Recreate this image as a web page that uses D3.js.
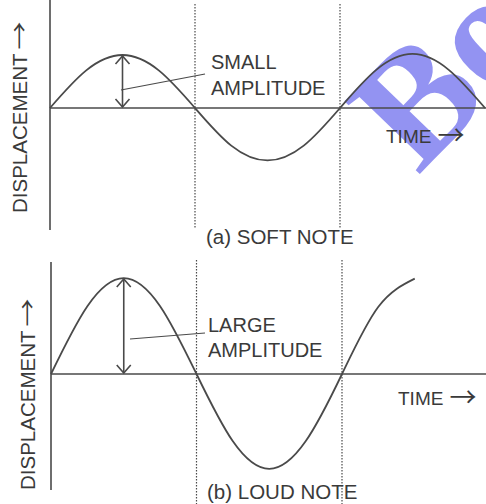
<!DOCTYPE html>
<html>
<head>
<meta charset="utf-8">
<script src="https://cdn.jsdelivr.net/npm/d3@7"></script>
<style>
  body { margin: 0; background: #fff; }
  svg { display: block; font-family: "Liberation Sans", Arial, sans-serif; }
</style>
</head>
<body>
<div id="chart"></div>
<script>
// time in quarter periods, displacement in "small amplitude" units
const timeSteps = [0, 0.5, 1, 1.5, 2, 2.5, 3, 3.5, 4, 4.5, 5, 5.5, 6];
const softNote = [0, 0.71, 1, 0.71, 0, -0.71, -0.99, -0.71, 0, 0.72, 1.02, 0.72, 0];
const loudNote = [0, 1.28, 1.81, 1.28, 0, -1.27, -1.79, -1.27, 0, 1.27, 1.8];
const guideTimes = [2, 4];
const amplitudeTime = 1;
const panelLabels = ["(a) SOFT NOTE", "(b) LOUD NOTE"];
const amplitudeLabels = [["SMALL", "AMPLITUDE"], ["LARGE", "AMPLITUDE"]];
const axisLabels = ["DISPLACEMENT", "TIME"];
const arrowGlyph = "\u2192";

const width = 486, height = 504;
const ink = "#4a4a4a", textInk = "#3a3a3a";

const svg = d3.select("#chart").append("svg")
  .attr("width", width)
  .attr("height", height);

// watermark sits under the drawing
svg.append("text")
  .attr("transform", "translate(418,176) rotate(-46)")
  .attr("font-family", "'Liberation Serif', serif")
  .attr("font-weight", "bold")
  .attr("font-size", 160)
  .attr("fill", "#7070ee")
  .attr("opacity", 0.75)
  .text("Bo");

const panels = [
  {
    values: softNote,
    x0: 50, x4: 340, base: 108, axisTop: 0, axisBottom: 230,
    guideTop: 4, guideBottom: 229,
    leader: [[121, 90], [205, 74]], textX: 211, textY: [69, 95],
    timeX: 386, timeY: 143, captionX: 206, captionY: 244,
    yLabelX: 27, yLabelY: 213
  },
  {
    values: loudNote,
    x0: 51, x4: 342, base: 374, axisTop: 262, axisBottom: 490,
    guideTop: 260, guideBottom: 504,
    leader: [[130, 339], [205, 333]], textX: 208, textY: [332, 357],
    timeX: 398, timeY: 405, captionX: 207, captionY: 499,
    yLabelX: 35, yLabelY: 490
  }
];

// label followed by a thin arrow glyph, stretched along its length if needed
function arrowLabel(g, label, fontSize, arrowSize, stretch, gap, shift) {
  const t = g.append("text")
    .attr("font-size", fontSize)
    .attr("fill", textInk)
    .text(label);
  const w = t.node().getComputedTextLength();
  g.append("text")
    .attr("transform", `translate(${w + gap},${shift}) scale(${stretch},1)`)
    .attr("font-family", "'Noto Sans CJK JP', sans-serif")
    .attr("font-size", arrowSize)
    .attr("fill", textInk)
    .text(arrowGlyph);
}

panels.forEach((p, i) => {
  const x = d3.scaleLinear().domain([0, 4]).range([p.x0, p.x4]);
  const y = d3.scaleLinear().domain([-1, 1]).range([p.base + 53, p.base - 53]);
  const g = svg.append("g");

  // vertical axis
  g.append("line")
    .attr("x1", x(0)).attr("x2", x(0))
    .attr("y1", p.axisTop).attr("y2", p.axisBottom)
    .attr("stroke", ink).attr("stroke-width", 1.6);

  // time axis
  g.append("line")
    .attr("x1", x(0)).attr("x2", width)
    .attr("y1", y(0)).attr("y2", y(0))
    .attr("stroke", ink).attr("stroke-width", 1.6);

  // dotted guides at zero crossings
  g.selectAll(".guide")
    .data(guideTimes)
    .join("line")
    .attr("x1", d => x(d)).attr("x2", d => x(d))
    .attr("y1", p.guideTop).attr("y2", p.guideBottom)
    .attr("stroke", ink).attr("stroke-width", 1.2)
    .attr("stroke-dasharray", "1.5,1.5");

  // wave
  const pts = p.values.map((v, k) => [timeSteps[k], v]);
  g.append("path")
    .datum(pts)
    .attr("fill", "none")
    .attr("stroke", ink)
    .attr("stroke-width", 1.8)
    .attr("d", d3.line().x(d => x(d[0])).y(d => y(d[1])).curve(d3.curveNatural));

  // amplitude arrow
  const ax = x(amplitudeTime);
  const peak = y(p.values[timeSteps.indexOf(amplitudeTime)]);
  const bottom = y(0);
  g.append("line")
    .attr("x1", ax).attr("x2", ax)
    .attr("y1", peak + 1).attr("y2", bottom - 1)
    .attr("stroke", ink).attr("stroke-width", 1.6);
  g.append("path")
    .attr("fill", "none").attr("stroke", ink).attr("stroke-width", 1.6)
    .attr("d", `M${ax - 7},${peak + 9}L${ax},${peak + 1}L${ax + 7},${peak + 9}` +
               `M${ax - 7},${bottom - 9}L${ax},${bottom - 1}L${ax + 7},${bottom - 9}`);

  // leader line
  g.append("path")
    .attr("fill", "none").attr("stroke", ink).attr("stroke-width", 1.2)
    .attr("d", d3.line()(p.leader));

  // amplitude label
  g.selectAll(".amp")
    .data(amplitudeLabels[i])
    .join("text")
    .attr("x", p.textX)
    .attr("y", (d, k) => p.textY[k])
    .attr("font-size", 20)
    .attr("fill", textInk)
    .text(d => d);

  // time label
  g.append("g")
    .attr("transform", `translate(${p.timeX},${p.timeY})`)
    .call(arrowLabel, axisLabels[1], 19, 27, 1, 6, 2);

  // caption
  g.append("text")
    .attr("x", p.captionX).attr("y", p.captionY)
    .attr("font-size", 20.5)
    .attr("fill", textInk)
    .text(panelLabels[i]);

  // displacement label
  g.append("g")
    .attr("transform", `translate(${p.yLabelX},${p.yLabelY}) rotate(-90)`)
    .call(arrowLabel, axisLabels[0], 20.5, 22, 1.27, 4, 0);
});
</script>
</body>
</html>
